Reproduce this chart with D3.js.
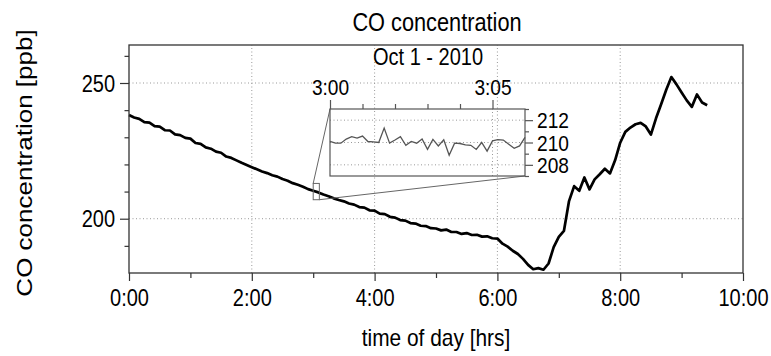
<!DOCTYPE html>
<html>
<head>
<meta charset="utf-8">
<script src="https://cdn.jsdelivr.net/npm/d3@7"></script>
<style>
  body { margin: 0; background: #fff; }
  svg { display: block; font-family: "Liberation Sans", Arial, Helvetica, sans-serif; }
</style>
</head>
<body>
<svg id="chart" width="771" height="356"></svg>
<script>
// CO concentration [ppb], one reading every 5 min from 0:00
var coStartMin = 0, coStepMin = 5
var coPpb = [
  238.2, 237.3, 236.8, 235.6, 235.4, 234.1, 233.9, 232.6, 232.5, 231.1, 230.8, 229.8,
  229.5, 227.9, 227.6, 226.3, 225.8, 224.7, 224.3, 222.9, 222.4, 221.5, 220.6, 219.8,
  219.0, 218.2, 217.4, 216.8, 216.0, 215.5, 214.6, 214.0, 213.1, 212.5, 211.8, 210.9,
  210.3, 209.7, 208.9, 208.3, 207.5, 206.9, 206.4, 205.6, 205.2, 204.3, 204.1, 203.1,
  203.0, 201.9, 201.7, 200.7, 200.4, 199.5, 199.3, 198.4, 198.2, 197.4, 197.3, 196.5,
  196.4, 195.7, 196.0, 195.1, 195.1, 194.4, 194.7, 194.0, 194.1, 193.4, 193.5, 192.8,
  192.7, 190.8, 189.7, 188.2, 187.0, 185.2, 183.0, 181.4, 181.8, 181.2, 183.5, 189.5,
  193.3, 195.5, 206.5, 212.0, 210.3, 215.2, 210.8, 214.5, 216.4, 218.4, 216.7, 221.5,
  228.0, 232.0, 233.6, 234.8, 235.3, 234.0, 231.0, 237.0, 242.2, 247.5, 252.2, 249.5,
  246.5, 243.6, 241.2, 245.8, 242.8, 241.8
]

// zoomed window 3:00 - 3:06, one reading every 10 s
var insetStartMin = 180, insetStepSec = 10
var insetPpb = [
  210.09, 209.94, 209.94, 210.31, 210.52, 210.40, 210.58, 210.09, 210.06, 210.00,
  211.29, 209.94, 210.22, 210.52, 209.75, 210.09, 209.94, 210.31, 209.38, 210.28,
  209.69, 210.25, 208.86, 209.94, 209.91, 209.78, 209.75, 209.38, 210.00, 209.23,
  210.15, 210.25, 210.22, 209.85, 209.48, 209.69, 210.46
]

var xTicks = [0, 120, 240, 360, 480, 600]
var xMinorTicks = [60, 180, 300, 420, 540]
var yTicks = [200, 250]
var yMinorTicks = [190, 210, 220, 230, 240, 260]
var insetXTicks = [180, 185]
var insetXMinorTicks = [181, 182, 183, 184]
var insetYTicks = [208, 210, 212]
var insetYMinorTicks = [207, 209, 211, 213]

var svg = d3.select('#chart')
var sq = 0.87  // glyphs in the original are squeezed horizontally

var x = d3.scaleLinear().domain([0, 600]).range([129, 743])
var y = d3.scaleLinear().domain([180, 264]).range([273, 45])
var xi = d3.scaleLinear().domain([180, 186]).range([330, 525])
var yi = d3.scaleLinear().domain([207, 213]).range([176, 109])

var fmt = m => Math.floor(m/60) + ':' + d3.format('02')(m % 60)
var gridStyle = sel => sel.attr('stroke', '#999').attr('stroke-width', 1)
  .attr('stroke-dasharray', '1,2.5')

// main grid
svg.append('g').selectAll('line').data(xTicks.slice(1, -1)).join('line')
  .attr('x1', d => x(d)).attr('x2', d => x(d))
  .attr('y1', y.range()[0]).attr('y2', y.range()[1])
  .call(gridStyle)
svg.append('g').selectAll('line').data(yTicks).join('line')
  .attr('x1', x.range()[0]).attr('x2', x.range()[1])
  .attr('y1', d => y(d)).attr('y2', d => y(d))
  .call(gridStyle)

// inset grid
svg.append('g').selectAll('line').data([185]).join('line')
  .attr('x1', d => xi(d)).attr('x2', d => xi(d))
  .attr('y1', yi.range()[0]).attr('y2', yi.range()[1])
  .call(gridStyle)
svg.append('g').selectAll('line').data(insetYTicks).join('line')
  .attr('x1', xi.range()[0]).attr('x2', xi.range()[1])
  .attr('y1', d => yi(d)).attr('y2', d => yi(d))
  .call(gridStyle)

// main series
var line = d3.line()
  .x((d, i) => x(coStartMin + i*coStepMin))
  .y(d => y(d))
svg.append('path').datum(coPpb)
  .attr('d', line)
  .attr('fill', 'none').attr('stroke', '#000').attr('stroke-width', 2.7)
  .attr('stroke-linejoin', 'round')

// inset series
var insetLine = d3.line()
  .x((d, i) => xi(insetStartMin + i*insetStepSec/60))
  .y(d => yi(d))
svg.append('path').datum(insetPpb)
  .attr('d', insetLine)
  .attr('fill', 'none').attr('stroke', '#555').attr('stroke-width', 1.3)

// zoom box and connectors
var zx0 = x(xi.domain()[0]), zx1 = x(xi.domain()[1])
var zy0 = y(yi.domain()[1]), zy1 = y(yi.domain()[0])
svg.append('rect')
  .attr('x', zx0).attr('y', zy0).attr('width', zx1 - zx0).attr('height', zy1 - zy0)
  .attr('fill', 'none').attr('stroke', '#666').attr('stroke-width', 1)
svg.append('line')
  .attr('x1', zx0).attr('y1', zy0).attr('x2', xi.range()[0]).attr('y2', yi.range()[1])
  .attr('stroke', '#666')
svg.append('line')
  .attr('x1', zx1).attr('y1', zy1).attr('x2', xi.range()[1]).attr('y2', yi.range()[0])
  .attr('stroke', '#666')

// frames
svg.append('rect')
  .attr('x', x.range()[0]).attr('y', y.range()[1])
  .attr('width', x.range()[1] - x.range()[0]).attr('height', y.range()[0] - y.range()[1])
  .attr('fill', 'none').attr('stroke', '#333').attr('stroke-width', 1.3)
svg.append('rect')
  .attr('x', xi.range()[0]).attr('y', yi.range()[1])
  .attr('width', xi.range()[1] - xi.range()[0]).attr('height', yi.range()[0] - yi.range()[1])
  .attr('fill', 'none').attr('stroke', '#555').attr('stroke-width', 1.2)

function styleAxis(g, size, color){
  g.select('.domain').remove()
  g.selectAll('line').attr('stroke', color).attr('stroke-width', 1.2)
  g.selectAll('text').attr('font-size', size).attr('fill', '#000')
  g.attr('font-family', null)
}

// main axes
svg.append('g').attr('transform', 'translate(0,273)')
  .call(d3.axisBottom(x).tickValues(xTicks).tickFormat(fmt).tickSize(8).tickSizeOuter(0))
  .call(g => styleAxis(g, 23, '#333'))
  .call(g => g.selectAll('text').attr('y', 33.5).attr('dy', 0)
    .attr('transform', `scale(${sq},1)`))
svg.append('g').attr('transform', 'translate(0,273)')
  .call(d3.axisBottom(x).tickValues(xMinorTicks).tickFormat('').tickSize(5).tickSizeOuter(0))
  .call(g => styleAxis(g, 23, '#333'))

svg.append('g').attr('transform', 'translate(129,0)')
  .call(d3.axisLeft(y).tickValues(yTicks).tickFormat(d3.format('d')).tickSize(9).tickSizeOuter(0))
  .call(g => styleAxis(g, 23, '#333'))
  .call(g => g.selectAll('text').attr('x', -14/sq).attr('y', 8).attr('dy', 0)
    .attr('transform', `scale(${sq},1)`))
svg.append('g').attr('transform', 'translate(129,0)')
  .call(d3.axisLeft(y).tickValues(yMinorTicks).tickFormat('').tickSize(4.5).tickSizeOuter(0))
  .call(g => styleAxis(g, 23, '#333'))

// inset axes
svg.append('g').attr('transform', 'translate(0,109)')
  .call(d3.axisTop(xi).tickValues(insetXTicks).tickFormat(fmt).tickSize(9).tickSizeOuter(0))
  .call(g => styleAxis(g, 22, '#555'))
  .call(g => g.selectAll('text').attr('y', -14).attr('dy', 0)
    .attr('transform', `scale(${sq},1)`))
svg.append('g').attr('transform', 'translate(0,109)')
  .call(d3.axisTop(xi).tickValues(insetXMinorTicks).tickFormat('').tickSize(5).tickSizeOuter(0))
  .call(g => styleAxis(g, 22, '#555'))

svg.append('g').attr('transform', 'translate(525,0)')
  .call(d3.axisRight(yi).tickValues(insetYTicks).tickFormat(d3.format('d')).tickSize(8).tickSizeOuter(0))
  .call(g => styleAxis(g, 22, '#555'))
  .call(g => g.selectAll('text').attr('x', 12/sq).attr('y', 7.5).attr('dy', 0)
    .attr('transform', `scale(${sq},1)`))
svg.append('g').attr('transform', 'translate(525,0)')
  .call(d3.axisRight(yi).tickValues(insetYMinorTicks).tickFormat('').tickSize(4).tickSizeOuter(0))
  .call(g => styleAxis(g, 22, '#555'))

// titles
function label(txt, tx, ty, size, rot){
  svg.append('text').text(txt)
    .attr('transform', `translate(${tx},${ty}) scale(${sq},1)` + (rot ? ' rotate(-90)' : ''))
    .attr('text-anchor', 'middle').attr('font-size', size).attr('fill', '#000')
}
label('CO concentration', 437, 31, 25)
label('Oct 1 - 2010', 428, 65, 23)
label('time of day [hrs]', 436, 346, 24)
label('CO concentration [ppb]', 31.5, 163, 26, true)
</script>
</body>
</html>
